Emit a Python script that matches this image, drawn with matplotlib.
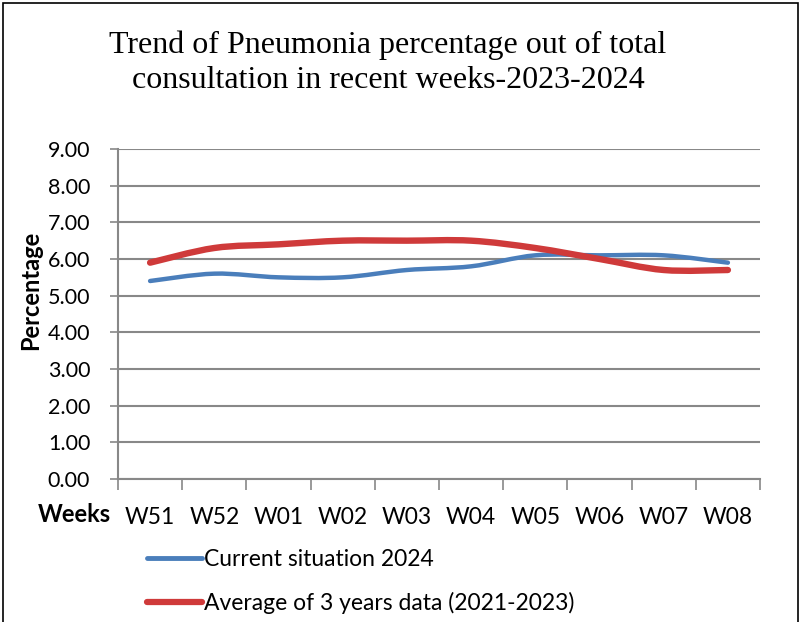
import matplotlib.pyplot as plt
from matplotlib.path import Path
from matplotlib.patches import PathPatch, Rectangle
from matplotlib.lines import Line2D
import numpy as np

weeks = ["W51", "W52", "W01", "W02", "W03", "W04", "W05", "W06", "W07", "W08"]
current_2024 = [5.4, 5.6, 5.5, 5.5, 5.7, 5.8, 6.1, 6.1, 6.1, 5.9]
avg_3yr = [5.9, 6.3, 6.4, 6.5, 6.5, 6.5, 6.3, 6.0, 5.7, 5.7]

BLUE = "#4a7ebb"
RED = "#cf3a3a"
GRID = "#888888"
plt.rcParams['font.family'] = ['Lato', 'DejaVu Sans']


def smooth_path(x, y):
    # Excel-like smoothed line: cubic bezier through the points
    x = np.asarray(x, float)
    y = np.asarray(y, float)
    verts = [(x[0], y[0])]
    codes = [Path.MOVETO]
    n = len(x)
    for i in range(n - 1):
        p0 = (x[max(i - 1, 0)], y[max(i - 1, 0)])
        p1 = (x[i], y[i])
        p2 = (x[i + 1], y[i + 1])
        p3 = (x[min(i + 2, n - 1)], y[min(i + 2, n - 1)])
        c1 = (p1[0] + (p2[0] - p0[0]) / 6, p1[1] + (p2[1] - p0[1]) / 6)
        c2 = (p2[0] - (p3[0] - p1[0]) / 6, p2[1] - (p3[1] - p1[1]) / 6)
        verts += [c1, c2, p2]
        codes += [Path.CURVE4] * 3
    return Path(verts, codes)


fig = plt.figure(figsize=(8.04, 6.22), dpi=100)
ax = fig.add_axes([118 / 804, 1 - 479 / 622, 642 / 804, 330 / 622])

x = np.arange(len(weeks))
for vals, col, lw in [(current_2024, BLUE, 3.2), (avg_3yr, RED, 4.6)]:
    ax.add_patch(PathPatch(smooth_path(x, vals), facecolor="none", edgecolor=col,
                           lw=lw, capstyle="round", joinstyle="round", zorder=3))

ax.set_xlim(-0.5, len(weeks) - 0.5)
ax.set_ylim(0, 9)
ax.set_yticks(np.arange(0, 9.01, 1))
ax.set_yticklabels([f"{v:.2f}" for v in np.arange(0, 9.01, 1)], fontsize=15.5)
ax.set_xticks(x)
ax.set_xticklabels(weeks, fontsize=16.5)
ax.set_xticks(np.arange(-0.5, len(weeks)), minor=True)
ax.tick_params(axis="x", which="major", length=0, pad=20)
ax.tick_params(axis="x", which="minor", length=8, color=GRID, width=1.2)
ax.tick_params(axis="y", length=6, color=GRID, width=1.2, pad=14)
ax.grid(axis="y", color=GRID, lw=1.5)
ax.set_axisbelow(True)
for s in ["top", "right"]:
    ax.spines[s].set_visible(False)
for s in ["left", "bottom"]:
    ax.spines[s].set_color(GRID)
    ax.spines[s].set_linewidth(1.5)

fig.text(388 / 804, 1 - 63 / 622, "Trend of Pneumonia percentage out of total\nconsultation in recent weeks-2023-2024",
         ha="center", va="center", fontsize=23, family="Liberation Serif", linespacing=1.25)
fig.text(31 / 804, 1 - 290 / 622, "Percentage", rotation=90, ha="center", va="center",
         fontsize=17, fontweight="bold")
fig.text(74 / 804, 1 - 514 / 622, "Weeks", ha="center", va="center", fontsize=17, fontweight="bold")

handles = [Line2D([], [], color=BLUE, lw=3.5, solid_capstyle="round"),
           Line2D([], [], color=RED, lw=4.5, solid_capstyle="round")]
fig.legend(handles, ["Current situation 2024", "Average of 3 years data (2021-2023)"],
           loc="upper left", bbox_to_anchor=(147 / 804, 1 - 549 / 622), frameon=False,
           fontsize=16.5, handlelength=2.4, handletextpad=0.1, labelspacing=0.95,
           borderaxespad=0, borderpad=0)

fig.patches.append(Rectangle((3 / 804, -0.01), 795 / 804, 1 - 3 / 622 + 0.01, transform=fig.transFigure,
                             fill=False, edgecolor="black", lw=1.2))

fig.savefig("out.png", dpi=100)
